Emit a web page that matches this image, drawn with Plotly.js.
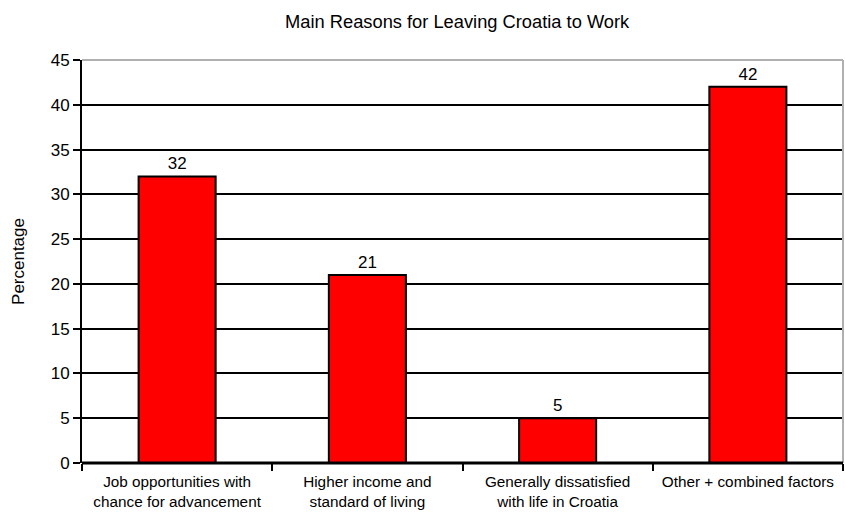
<!DOCTYPE html>
<html>
<head>
<meta charset="utf-8">
<script src="https://cdn.plot.ly/plotly-3.0.1.min.js"></script>
<style>html,body{margin:0;padding:0;background:#fff;}#chart{width:845px;height:515px;}</style>
</head>
<body>
<div id="chart"></div>
<script>
const categories = [
  "Job opportunities with<br>chance for advancement",
  "Higher income and<br>standard of living",
  "Generally dissatisfied<br>with life in Croatia",
  "Other + combined factors"
];
const values = [32, 21, 5, 42];
const yTicks = [0, 5, 10, 15, 20, 25, 30, 35, 40, 45];

const font = "Liberation Sans, Arial, sans-serif";

const trace = {
  type: "bar",
  x: categories,
  y: values,
  width: 0.405,
  marker: { color: "#ff0000", line: { color: "#000000", width: 2 } },
  text: values.map(String),
  textposition: "outside",
  textfont: { family: font, size: 17, color: "#000" },
  cliponaxis: false,
  hoverinfo: "none"
};

const layout = {
  width: 845, height: 515,
  margin: { l: 82, r: 2, t: 60, b: 52 },
  paper_bgcolor: "#fff", plot_bgcolor: "#fff",
  showlegend: false,
  title: { text: "Main Reasons for Leaving Croatia to Work", font: { family: font, size: 18.3, color: "#000" }, x: 0.541, xanchor: "center", y: 0.958, yanchor: "middle" },
  xaxis: {
    type: "category",
    tickson: "boundaries",
    ticks: "outside", ticklen: 7, tickwidth: 2, tickcolor: "#000",
    showline: false, showgrid: false, zeroline: false,
    tickfont: { family: font, size: 15.3, color: "#000" },
    ticklabelstandoff: 8,
    range: [-0.5, 3.5]
  },
  yaxis: {
    range: [0, 45],
    tickvals: yTicks,
    ticktext: yTicks.map(String),
    ticks: "outside", ticklen: 7, tickwidth: 2, tickcolor: "#000",
    showline: true, linecolor: "#000", linewidth: 2,
    showgrid: true, gridcolor: "#000", gridwidth: 2,
    zeroline: false,
    tickfont: { family: font, size: 17, color: "#000" },
    title: { text: "Percentage", font: { family: font, size: 17, color: "#000" }, standoff: 22 }
  },
  shapes: [
    { type: "line", xref: "paper", yref: "paper", x0: 0, x1: 1, y0: 1, y1: 1, line: { color: "#b0b0b0", width: 2 } },
    { type: "line", xref: "paper", yref: "paper", x0: 1, x1: 1, y0: 0, y1: 1, line: { color: "#b0b0b0", width: 2 } },
    { type: "line", xref: "paper", yref: "paper", x0: 0, x1: 1, y0: 0, y1: 0, line: { color: "#000", width: 3 } }
  ]
};

Plotly.newPlot("chart", [trace], layout, { displayModeBar: false, staticPlot: true });
</script>
</body>
</html>
